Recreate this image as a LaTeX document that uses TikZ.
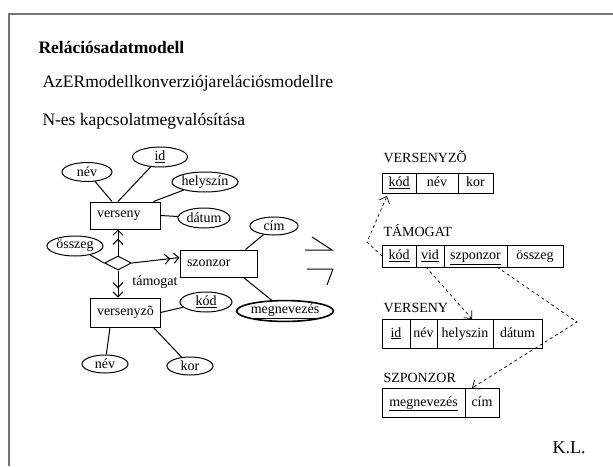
\documentclass[tikz,border=0pt]{standalone}
\usepackage{fontspec}
\setmainfont{Liberation Serif}
\usetikzlibrary{arrows.meta,positioning,shapes.geometric}

\begin{document}
\begin{tikzpicture}[
  x=1pt,y=-1pt,line width=1pt,
  font=\fontsize{14}{16}\selectfont,
  ent/.style={draw,align=left,inner xsep=7pt,inner ysep=0pt,minimum height=27pt},
  attr/.style={ellipse,draw,inner sep=0pt,minimum height=19pt},
  rel/.style={diamond,draw,inner sep=0pt,minimum width=27pt,minimum height=14pt},
  tomany/.style={-{Straight Barb[length=5pt,width=10pt,sep=3pt]Straight Barb[length=5pt,width=10pt]}},
  cell/.style={draw,inner sep=0pt,outer sep=0pt,text height=10pt,text depth=3pt,minimum height=#1},
  cell/.default=22pt,
  tname/.style={inner sep=1pt,anchor=south west},
  fk/.style={dashed,line width=.7pt,-{Straight Barb[length=6pt,width=11pt]}},
  big/.style={font=\fontsize{17.5}{20}\selectfont,inner sep=0pt,anchor=base west}
]
\useasboundingbox (0,0) rectangle (613,466);
\draw[black!55,line width=1.6pt] (613,14) -- (9,14) -- (9,466);

% headings
\node[big] (title) at (38,53) {\bfseries Relációsadatmodell};
\node[big] (conv) at (42,87) {AzERmodellkonverziójarelációsmodellre};
\node[big] (nkap) at (42,125) {N-es kapcsolatmegvalósítása};

% ER diagram
\node[ent,text width=56pt] (verseny) at (125,215.5) {verseny};
\node[ent,text width=63pt] (szonzor) at (218.5,263.5) {szonzor};
\node[ent,text width=56pt,minimum height=29pt] (versenyzo) at (125,312.5) {versenyzõ};
\node[rel] (tam) at (118,263) {};
\node (tamlbl) at (155,282) {támogat};

\node[attr,minimum width=50pt] (vnev) at (87,172) {név};
\node[attr,minimum width=55pt,minimum height=20pt] (vid) at (160,157) {\underline{id}};
\node[attr,minimum width=64pt,minimum height=20pt] (vhely) at (205,182) {helyszín};
\node[attr,minimum width=52pt,minimum height=20pt] (vdatum) at (204,218) {dátum};
\node[attr,minimum width=56pt,minimum height=20pt] (osszeg) at (75,246) {összeg};
\node[attr,minimum width=48pt,minimum height=18pt] (szcim) at (274,226) {cím};
\node[attr,line width=1.6pt,minimum width=88pt,minimum height=17pt] (szmegn) at (285,311) {\underline{megnevezés}};
\node[attr,minimum width=52pt,minimum height=20pt] (vzkod) at (206,302) {\underline{kód}};
\node[attr,minimum width=46pt,minimum height=18pt] (vznev) at (105,364) {név};
\node[attr,minimum width=46pt,minimum height=18pt] (vzkor) at (190,366) {kor};

\draw (vnev) -- ([xshift=-13pt]verseny.north);
\draw (vid) -- ([xshift=-7pt]verseny.north);
\draw (vhely) -- ([xshift=-7pt]verseny.north east);
\draw (vdatum) -- (verseny.east);
\draw (szcim) -- ([xshift=-12pt]szonzor.north east);
\draw (szmegn) -- ([xshift=-14pt]szonzor.south east);
\draw (vzkod) -- (versenyzo.east);
\draw (vznev) -- ([xshift=-15pt]versenyzo.south);
\draw (vzkor) -- ([xshift=-7pt]versenyzo.south east);
\draw (osszeg) -- (tam.west);
\draw[tomany] (tam.north) -- (tam.north |- verseny.south);
\draw[tomany] (tam.east) -- ([yshift=6pt]szonzor.west);
\draw[tomany] (tam.south) -- (tam.south |- versenyzo.north);

% conversion sign
\draw (312,237) -- (332,250) -- (305,250);
\draw (307,269) -- (333,269) -- (327,285);

% relations
\node[cell=20pt,minimum width=34pt,anchor=north west] (vk) at (382,173) {\underline{kód}};
\node[cell=20pt,minimum width=42pt,right=0pt of vk] (vn) {név};
\node[cell=20pt,minimum width=35pt,right=0pt of vn] (vko) {kor};
\node[above=9pt of vk.north west,tname] (vzname) {VERSENYZÕ};

\node[cell,minimum width=34pt,anchor=north west] (tk) at (382,245) {\underline{kód}};
\node[cell,minimum width=28pt,right=0pt of tk] (tv) {\underline{vid}};
\node[cell,minimum width=63pt,right=0pt of tv] (tsz) {\underline{szponzor}};
\node[cell,minimum width=56pt,right=0pt of tsz] (to) {összeg};
\node[above=7pt of tk.north west,tname] (tname) {TÁMOGAT};

\node[cell=29pt,minimum width=28pt,anchor=north west] (ri) at (382,319) {\underline{id}};
\node[cell=29pt,minimum width=27pt,right=0pt of ri] (rn) {név};
\node[cell=29pt,minimum width=56pt,right=0pt of rn] (rh) {helyszin};
\node[cell=29pt,minimum width=49pt,right=0pt of rh] (rd) {dátum};
\node[above=5pt of ri.north west,tname] (rname) {VERSENY};

\node[cell=29pt,minimum width=83pt,anchor=north west] (sm) at (382,388) {\underline{megnevezés}};
\node[cell=29pt,minimum width=34pt,right=0pt of sm] (sc) {cím};
\node[above=4pt of sm.north west,tname] (sname) {SZPONZOR};

% foreign keys
\coordinate (fkbend1) at (367,242);
\coordinate (fkbend2) at (577,322);
\draw[fk] (tk.west) -- (fkbend1) -- ([xshift=5pt,yshift=-3pt]vk.south west);
\draw[fk] ([xshift=-4pt]tv.south) -- ([xshift=7pt]rh.north);
\draw[fk] ([xshift=-10pt]tsz.south east) -- (fkbend2) -- ([xshift=7pt]sc.north west);

\node[big,font=\fontsize{18}{20}\selectfont] (kl) at (552,453) {K.L.};
\end{tikzpicture}
\end{document}
